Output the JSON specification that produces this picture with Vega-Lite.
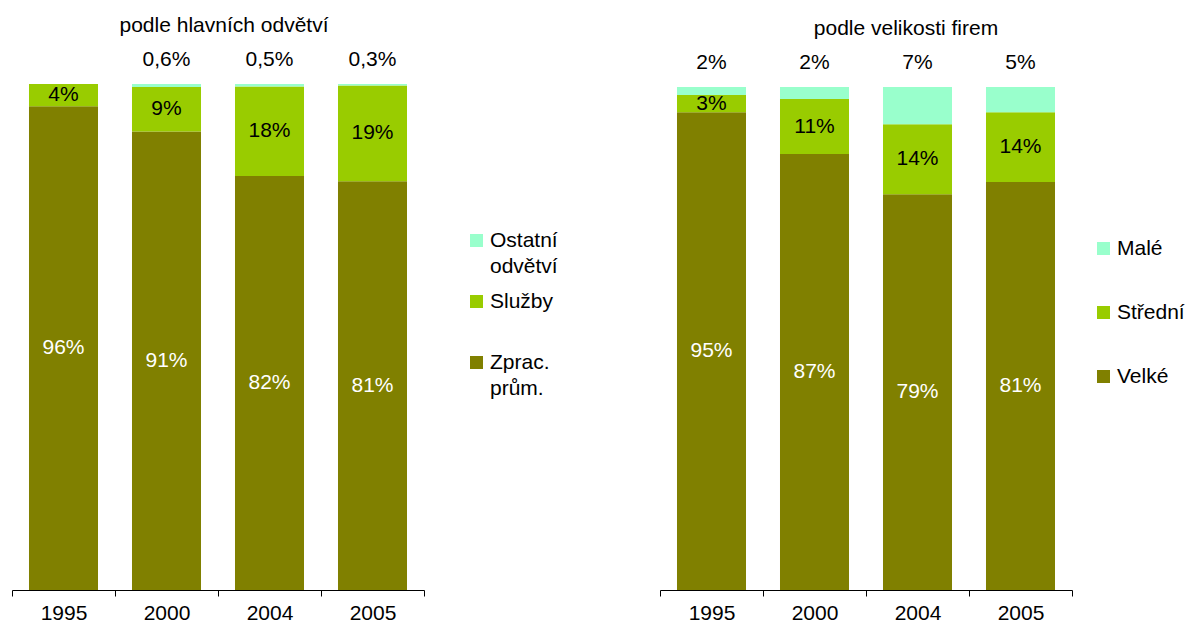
{
  "$schema": "https://vega.github.io/schema/vega-lite/v6.json",
  "padding": {"left": 11, "top": 15, "right": 0, "bottom": 0},
  "autosize": {"type": "pad"},
  "background": "white",
  "config": {
    "font": "Liberation Sans",
    "view": {"stroke": null},
    "locale": {"number": {"decimal": ",", "thousands": " ", "grouping": [3], "currency": ["", " Kč"]}},
    "style": {"guide-label": {"lineHeight": 26}},
    "title": {"fontSize": 21, "fontWeight": "normal", "color": "#000000"},
    "axis": {
      "title": null, "labelAngle": 0, "tickBand": "extent", "grid": false,
      "domainColor": "#000000", "tickColor": "#000000", "tickSize": 6,
      "domainWidth": 1, "tickWidth": 1,
      "labelFontSize": 21, "labelColor": "#000000", "labelPadding": 6
    },
    "legend": {
      "title": null, "symbolType": "square", "symbolSize": 169, "symbolStrokeWidth": 0,
      "labelFontSize": 21, "labelColor": "#000000", "labelOffset": 3, "labelLimit": 0,
      "padding": 0, "gridAlign": "all", "symbolOpacity": 1
    }
  },
  "datasets": {
    "odvetvi": [
      {"year": "1995", "cat": "Zprac. prům.", "ord": 1, "value": 0.956},
      {"year": "1995", "cat": "Služby", "ord": 2, "value": 0.044},
      {"year": "1995", "cat": "Ostatní odvětví", "ord": 3, "value": 0},
      {"year": "2000", "cat": "Zprac. prům.", "ord": 1, "value": 0.906},
      {"year": "2000", "cat": "Služby", "ord": 2, "value": 0.088},
      {"year": "2000", "cat": "Ostatní odvětví", "ord": 3, "value": 0.006},
      {"year": "2004", "cat": "Zprac. prům.", "ord": 1, "value": 0.818},
      {"year": "2004", "cat": "Služby", "ord": 2, "value": 0.177},
      {"year": "2004", "cat": "Ostatní odvětví", "ord": 3, "value": 0.005},
      {"year": "2005", "cat": "Zprac. prům.", "ord": 1, "value": 0.808},
      {"year": "2005", "cat": "Služby", "ord": 2, "value": 0.189},
      {"year": "2005", "cat": "Ostatní odvětví", "ord": 3, "value": 0.003}
    ],
    "velikost": [
      {"year": "1995", "cat": "Velké", "ord": 1, "value": 0.950},
      {"year": "1995", "cat": "Střední", "ord": 2, "value": 0.034},
      {"year": "1995", "cat": "Malé", "ord": 3, "value": 0.016},
      {"year": "2000", "cat": "Velké", "ord": 1, "value": 0.867},
      {"year": "2000", "cat": "Střední", "ord": 2, "value": 0.109},
      {"year": "2000", "cat": "Malé", "ord": 3, "value": 0.024},
      {"year": "2004", "cat": "Velké", "ord": 1, "value": 0.787},
      {"year": "2004", "cat": "Střední", "ord": 2, "value": 0.139},
      {"year": "2004", "cat": "Malé", "ord": 3, "value": 0.074},
      {"year": "2005", "cat": "Velké", "ord": 1, "value": 0.811},
      {"year": "2005", "cat": "Střední", "ord": 2, "value": 0.139},
      {"year": "2005", "cat": "Malé", "ord": 3, "value": 0.050}
    ]
  },
  "spacing": 236,
  "bounds": "flush",
  "resolve": {"scale": {"color": "independent"}, "legend": {"color": "independent"}},
  "hconcat": [
    {
      "width": 412, "height": 506,
      "title": {"text": "podle hlavních odvětví", "frame": "group", "dx": 6, "offset": 13},
      "data": {"name": "odvetvi"},
      "transform": [
        {"stack": "value", "groupby": ["year"], "sort": [{"field": "ord", "order": "ascending"}], "as": ["v0", "v1"]},
        {"calculate": "(datum.v0 + datum.v1) / 2", "as": "vmid"}
      ],
      "encoding": {
        "x": {"field": "year", "type": "nominal", "scale": {"paddingInner": 0, "paddingOuter": 0}}
      },
      "layer": [
        {
          "mark": {"type": "bar", "width": {"band": 0.67}},
          "encoding": {
            "y": {"field": "v1", "type": "quantitative", "scale": {"domain": [0, 1]}, "axis": null},
            "y2": {"field": "v0"},
            "color": {
              "field": "cat", "type": "nominal",
              "scale": {"domain": ["Ostatní odvětví", "Služby", "Zprac. prům."], "range": ["#99FFCC", "#99CC00", "#808000"]},
              "legend": {"orient": "none", "legendX": 454, "legendY": 146, "rowPadding": 13, "labelExpr": "split(datum.label, ' ')"}
            }
          }
        },
        {
          "transform": [{"filter": "datum.ord == 1"}],
          "mark": {"type": "text", "color": "#FFFFFF", "fontSize": 21, "baseline": "middle"},
          "encoding": {
            "y": {"field": "vmid", "type": "quantitative", "scale": {"domain": [0, 1]}, "axis": null},
            "text": {"field": "value", "type": "quantitative", "format": ".0%"}
          }
        },
        {
          "transform": [{"filter": "datum.ord == 2"}],
          "mark": {"type": "text", "color": "#000000", "fontSize": 21, "baseline": "middle"},
          "encoding": {
            "y": {"field": "vmid", "type": "quantitative", "scale": {"domain": [0, 1]}, "axis": null},
            "text": {"field": "value", "type": "quantitative", "format": ".0%"}
          }
        },
        {
          "transform": [{"filter": "datum.ord == 3 && datum.value > 0"}],
          "mark": {"type": "text", "color": "#000000", "fontSize": 21, "baseline": "middle", "dy": -24},
          "encoding": {
            "y": {"field": "v1", "type": "quantitative", "scale": {"domain": [0, 1]}, "axis": null},
            "text": {"field": "value", "type": "quantitative", "format": ".1%"}
          }
        }
      ]
    },
    {
      "width": 412, "height": 506,
      "title": {"text": "podle velikosti firem", "frame": "group", "dx": 40, "offset": 13},
      "data": {"name": "velikost"},
      "transform": [
        {"stack": "value", "groupby": ["year"], "sort": [{"field": "ord", "order": "ascending"}], "as": ["v0", "v1"]},
        {"calculate": "(datum.v0 + datum.v1) / 2", "as": "vmid"}
      ],
      "encoding": {
        "x": {"field": "year", "type": "nominal", "scale": {"paddingInner": 0, "paddingOuter": 0}}
      },
      "layer": [
        {
          "mark": {"type": "bar", "width": {"band": 0.67}},
          "encoding": {
            "y": {"field": "v1", "type": "quantitative", "scale": {"domain": [0, 1.006]}, "axis": null},
            "y2": {"field": "v0"},
            "color": {
              "field": "cat", "type": "nominal",
              "scale": {"domain": ["Malé", "Střední", "Velké"], "range": ["#99FFCC", "#99CC00", "#808000"]},
              "legend": {"orient": "none", "legendX": 433, "legendY": 154, "rowPadding": 42}
            }
          }
        },
        {
          "transform": [{"filter": "datum.ord == 1"}],
          "mark": {"type": "text", "color": "#FFFFFF", "fontSize": 21, "baseline": "middle"},
          "encoding": {
            "y": {"field": "vmid", "type": "quantitative", "scale": {"domain": [0, 1.006]}, "axis": null},
            "text": {"field": "value", "type": "quantitative", "format": ".0%"}
          }
        },
        {
          "transform": [{"filter": "datum.ord == 2"}],
          "mark": {"type": "text", "color": "#000000", "fontSize": 21, "baseline": "middle"},
          "encoding": {
            "y": {"field": "vmid", "type": "quantitative", "scale": {"domain": [0, 1.006]}, "axis": null},
            "text": {"field": "value", "type": "quantitative", "format": ".0%"}
          }
        },
        {
          "transform": [{"filter": "datum.ord == 3"}],
          "mark": {"type": "text", "color": "#000000", "fontSize": 21, "baseline": "middle", "dy": -24},
          "encoding": {
            "y": {"field": "v1", "type": "quantitative", "scale": {"domain": [0, 1.006]}, "axis": null},
            "text": {"field": "value", "type": "quantitative", "format": ".0%"}
          }
        }
      ]
    }
  ]
}
